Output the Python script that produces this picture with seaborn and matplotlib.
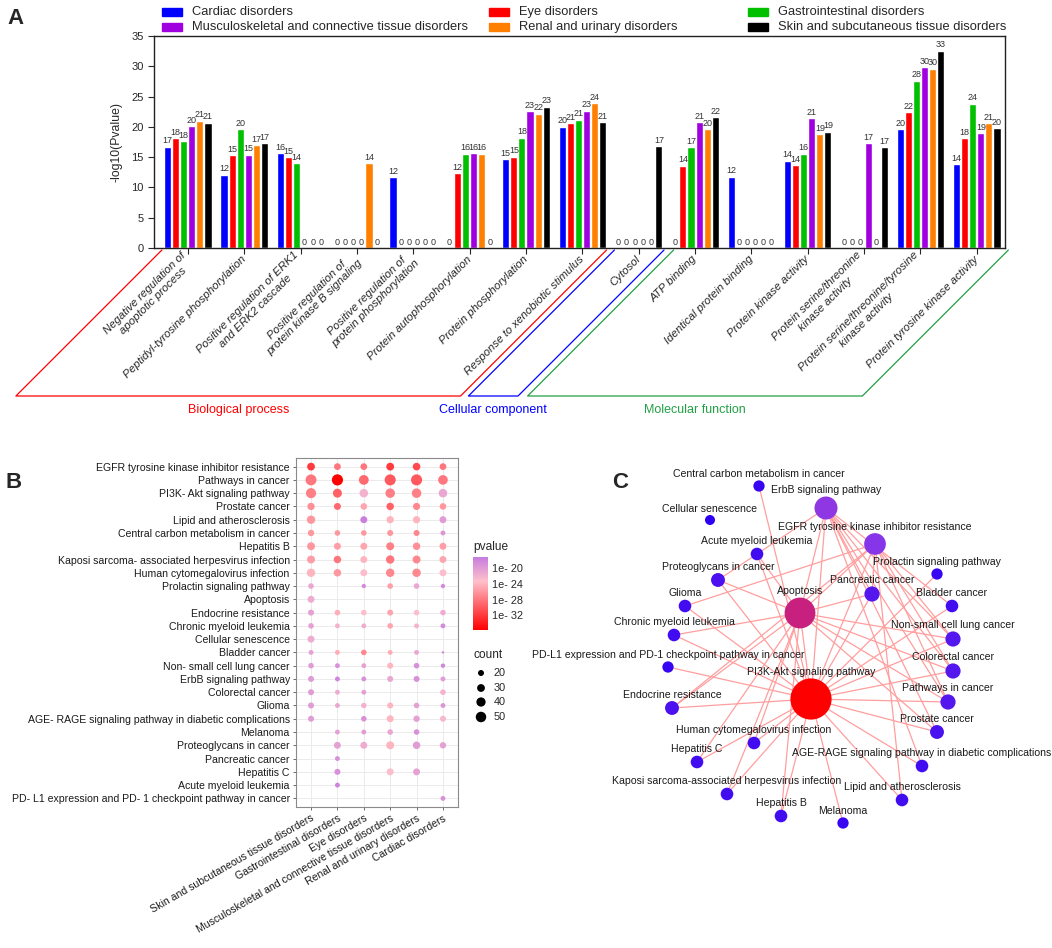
import numpy as np
import pandas as pd
import matplotlib
matplotlib.use("Agg")
import matplotlib.pyplot as plt
import seaborn as sns
from matplotlib.colors import LinearSegmentedColormap, Normalize
from matplotlib.cm import ScalarMappable
from matplotlib.patches import Rectangle

# ---------------- panel A data ----------------
go_terms = ["Negative regulation of\napoptotic process", "Peptidyl-tyrosine phosphorylation",
            "Positive regulation of ERK1\nand ERK2 cascade", "Positive regulation of\nprotein kinase B signaling",
            "Positive regulation of\nprotein phosphorylation", "Protein autophosphorylation",
            "Protein phosphorylation", "Response to xenobiotic stimulus", "Cytosol", "ATP binding",
            "Identical protein binding", "Protein kinase activity", "Protein serine/threonine\nkinase activity",
            "Protein serine/threonine/tyrosine\nkinase activity", "Protein tyrosine kinase activity"]
disorders_a = ["Cardiac disorders", "Eye disorders", "Gastrointestinal disorders",
               "Musculoskeletal and connective tissue disorders", "Renal and urinary disorders",
               "Skin and subcutaneous tissue disorders"]
bar_colors = ["#0000ff", "#ff0000", "#00c000", "#a000e0", "#ff8000", "#000000"]
cardiac_a = [16.7, 12.1, 15.7, 0, 11.7, 0, 14.7, 20.0, 0, 0, 11.8, 14.4, 0, 19.6, 13.8]
eye_a = [18.1, 15.3, 15.0, 0, 0, 12.3, 15.1, 20.6, 0, 13.6, 0, 13.7, 0, 22.4, 18.1]
gastro_a = [17.6, 19.6, 14.0, 0, 0, 15.6, 18.2, 21.2, 0, 16.6, 0, 15.6, 0, 27.6, 23.8]
musculo_a = [20.1, 15.4, 0, 0, 0, 15.7, 22.6, 22.7, 0, 20.8, 0, 21.4, 17.3, 29.8, 19.0]
renal_a = [21.0, 17.0, 0, 14.0, 0, 15.6, 22.2, 23.9, 0, 19.6, 0, 18.8, 0, 29.6, 20.6]
skin_a = [20.7, 17.3, 0, 0, 0, 0, 23.3, 20.8, 16.8, 21.6, 0, 19.2, 16.6, 32.6, 19.8]
brackets = [("Biological process", "#ff0000", -0.46, 7.43),
            ("Cellular component", "#0000ff", 7.57, 8.45),
            ("Molecular function", "#22a045", 8.62, 14.56)]

# ---------------- panel B data ----------------
pathways = ["EGFR tyrosine kinase inhibitor resistance", "Pathways in cancer", "PI3K- Akt signaling pathway",
            "Prostate cancer", "Lipid and atherosclerosis", "Central carbon metabolism in cancer", "Hepatitis B",
            "Kaposi sarcoma- associated herpesvirus infection", "Human cytomegalovirus infection",
            "Prolactin signaling pathway", "Apoptosis", "Endocrine resistance", "Chronic myeloid leukemia",
            "Cellular senescence", "Bladder cancer", "Non- small cell lung cancer", "ErbB signaling pathway",
            "Colorectal cancer", "Glioma", "AGE- RAGE signaling pathway in diabetic complications", "Melanoma",
            "Proteoglycans in cancer", "Pancreatic cancer", "Hepatitis C", "Acute myeloid leukemia",
            "PD- L1 expression and PD- 1 checkpoint pathway in cancer"]
disorders_b = ["Skin and subcutaneous tissue disorders", "Gastrointestinal disorders", "Eye disorders",
               "Musculoskeletal and connective tissue disorders", "Renal and urinary disorders", "Cardiac disorders"]
N = None
skin_count = [30, 54, 47, 27, 34, 22, 31, 31, 34, 18, 25, 20, 18, 25, 15, 18, 20, 20, 20, 20, N, N, N, N, N, N]
gastro_count = [24, 56, 38, 25, N, 18, 25, 28, 28, N, N, 18, 15, N, 15, 15, 15, 15, 15, N, 15, 25, 15, 20, 15, N]
eye_count = [24, 44, 35, 23, 25, 18, 25, 25, 25, 13, N, 18, 15, N, 18, 15, 15, 15, 18, 18, 15, 25, N, N, N, N]
musc_count = [30, 55, 42, 28, 27, 20, 31, 34, 34, 18, N, 20, 18, N, 15, 20, 20, N, 20, 25, 18, 31, N, 25, N, N]
renal_count = [29, 55, 42, 26, 27, 20, 28, 31, 34, 18, N, 18, 15, N, 15, 18, 20, N, 18, 22, 18, 28, N, 25, N, N]
cardiac_count = [24, 43, 35, 23, 25, 15, 25, 25, 25, 13, N, 18, 15, N, 7, 13, 15, 18, 15, 20, N, 22, N, N, N, 15]
# -log10(pvalue)
skin_p = [32, 28, 27.5, 26.5, 26, 26, 26, 25.5, 24, 21, 21.5, 20.5, 20.5, 21.5, 20.5, 20, 20, 20, 20, 20, N, N, N, N, N, N]
gastro_p = [28, 35.8, 29.5, 29, N, 26, 25.5, 28, 26, N, N, 24.5, 22, N, 24.5, 19, 18, 21.5, 21, N, 20.5, 20.5, 19, 19, 17.8, N]
eye_p = [28, 29, 22, 25, 17.4, 26, 25, 24, 23, 18.5, N, 23, 21.5, N, 27, 20.5, 19, 20.5, 22, 19, 20, 21.5, N, N, N, N]
musc_p = [32, 30, 27.5, 29.5, 24, 26, 27.5, 28, 27, 25.5, N, 25, 25, N, 24.5, 24, 21, N, 24, 24, 21, 24, N, 23, N, N]
renal_p = [31, 30, 27.5, 27, 24, 27, 26.5, 27, 27, 21, N, 23, 22, N, 21, 19, 19, N, 20.5, 20.5, 19, 20, N, 20.5, N, N]
cardiac_p = [28, 28, 21, 26, 20, 19.5, 25.5, 25, 23, 18.5, N, 21.5, 18.5, N, 18.5, 18, 20, 22, 19.5, 22.5, N, 20.5, N, N, N, 19]
count_ticks = [20, 30, 40, 50]
p_ticks = [20, 24, 28, 32]

# ---------------- panel C data ----------------
node_layout = {
    "Central carbon metabolism in cancer": (759, 486),
    "ErbB signaling pathway": (826, 508),
    "Cellular senescence": (710, 520),
    "EGFR tyrosine kinase inhibitor resistance": (875, 544),
    "Acute myeloid leukemia": (757, 554),
    "Prolactin signaling pathway": (937, 574),
    "Proteoglycans in cancer": (718, 580),
    "Pancreatic cancer": (872, 594),
    "Glioma": (685, 606),
    "Apoptosis": (800, 613),
    "Bladder cancer": (952, 606),
    "Chronic myeloid leukemia": (674, 635),
    "Non-small cell lung cancer": (953, 639),
    "PD-L1 expression and PD-1 checkpoint pathway in cancer": (668, 667),
    "Colorectal cancer": (953, 671),
    "PI3K-Akt signaling pathway": (811, 699),
    "Pathways in cancer": (948, 702),
    "Endocrine resistance": (672, 708),
    "Prostate cancer": (937, 732),
    "Human cytomegalovirus infection": (754, 743),
    "Hepatitis C": (697, 762),
    "AGE-RAGE signaling pathway in diabetic complications": (922, 766),
    "Kaposi sarcoma-associated herpesvirus infection": (727, 794),
    "Lipid and atherosclerosis": (902, 800),
    "Hepatitis B": (781, 816),
    "Melanoma": (843, 823),
}
pi3k_links = [n for n in node_layout if n not in ("PI3K-Akt signaling pathway", "Cellular senescence")]
apoptosis_links = ["ErbB signaling pathway", "EGFR tyrosine kinase inhibitor resistance", "Chronic myeloid leukemia",
                   "Proteoglycans in cancer", "Pancreatic cancer", "Colorectal cancer", "Non-small cell lung cancer",
                   "Pathways in cancer", "Prostate cancer", "Hepatitis B", "Hepatitis C",
                   "Kaposi sarcoma-associated herpesvirus infection", "Human cytomegalovirus infection",
                   "Acute myeloid leukemia", "Endocrine resistance"]
erbb_links = ["Proteoglycans in cancer", "Bladder cancer", "Non-small cell lung cancer", "Colorectal cancer",
              "Pathways in cancer", "Prostate cancer", "Pancreatic cancer",
              "AGE-RAGE signaling pathway in diabetic complications"]
egfr_links = ["Glioma", "Non-small cell lung cancer", "Endocrine resistance", "Colorectal cancer",
              "Pathways in cancer", "Pancreatic cancer", "Lipid and atherosclerosis"]

# ---------------- figure ----------------
sns.set_style("ticks")
plt.rcParams['font.family'] = ['Liberation Sans', 'DejaVu Sans']
W, H = 1052, 948
fig = plt.figure(figsize=(W / 100, H / 100), dpi=100)


def frac(x0, y0, x1, y1):
    return [x0 / W, 1 - y1 / H, (x1 - x0) / W, (y1 - y0) / H]


# overlay axes in pixel units (brackets, legends, network)
ov = fig.add_axes([0, 0, 1, 1])
ov.set_xlim(0, W)
ov.set_ylim(H, 0)
ov.axis("off")
ov.patch.set_alpha(0)

# ---- A: grouped bars
axA = fig.add_axes(frac(154, 36, 1005, 248))
rows = []
for d, vals in zip(disorders_a, [cardiac_a, eye_a, gastro_a, musculo_a, renal_a, skin_a]):
    for t, v in zip(go_terms, vals):
        rows.append((t, d, v))
dfA = pd.DataFrame(rows, columns=["term", "disorder", "value"])
sns.barplot(data=dfA, x="term", y="value", hue="disorder", order=go_terms, hue_order=disorders_a,
            palette=bar_colors, saturation=1, width=0.86, gap=0.12, errorbar=None, legend=False, ax=axA)
for cont in axA.containers:
    axA.bar_label(cont, labels=[f"{b.get_height():.0f}" for b in cont], padding=1, fontsize=6.5, color="#333333")
axA.set_xlim(-0.6, 14.5)
axA.set_ylim(0, 35)
axA.set_yticks(range(0, 36, 5))
axA.tick_params(axis="y", labelsize=8, length=4, width=0.8)
axA.set_xticks(range(len(go_terms)))
axA.set_xticklabels(go_terms, rotation=45, ha="right", va="center", rotation_mode="anchor",
                    fontstyle="italic", fontsize=8.2, multialignment="center")
axA.tick_params(axis="x", length=4, width=0.8, pad=3)
axA.set_xlabel("")
axA.set_ylabel("-log10(Pvalue)", fontsize=8.8, labelpad=6)
for s in axA.spines.values():
    s.set_linewidth(1)
    s.set_color("#222222")

# legend for A
legend_x = [162, 489, 748]
legend_y = [12, 27]
for i, (name, col) in enumerate(zip(disorders_a, bar_colors)):
    x, y = legend_x[i % 3], legend_y[i // 3]
    ov.add_patch(Rectangle((x, y - 4), 20, 8, color=col))
    ov.text(x + 30, y, name, va="center", ha="left", fontsize=9.3)

# brackets under A
def to_px(xd):
    return axA.transData.transform((xd, 0))[0]

top_y, bot_y = 250, 396
shift = bot_y - top_y
for name, col, x0d, x1d in brackets:
    x0, x1 = to_px(x0d), to_px(x1d)
    ov.plot([x0, x0 - shift, x1 - shift, x1], [top_y, bot_y, bot_y, top_y], color=col, lw=0.9)
    ov.text((x0 + x1) / 2 - shift, 410, name, color=col, ha="center", va="center", fontsize=9)

# ---- B: dot plot
def dot_area(c):
    return 18.7 + 1.28 * (c - 20)

cmapB = LinearSegmentedColormap.from_list("pv", [(0, "#c77cdf"), (0.33, "#ffc0cb"), (1, "#ff0000")])
normB = Normalize(17.1, 35.8)
rowsB = []
for d, cnts, ps in zip(disorders_b, [skin_count, gastro_count, eye_count, musc_count, renal_count, cardiac_count],
                       [skin_p, gastro_p, eye_p, musc_p, renal_p, cardiac_p]):
    for pw, c, p in zip(pathways, cnts, ps):
        if c is not None:
            rowsB.append((pw, d, c, p))
dfB = pd.DataFrame(rowsB, columns=["pathway", "disorder", "count", "neglogp"])
dfB["pathway"] = pd.Categorical(dfB["pathway"], categories=pathways)
dfB["disorder"] = pd.Categorical(dfB["disorder"], categories=disorders_b)

axB = fig.add_axes(frac(296, 458, 458, 807))
axB.grid(True, color="#ebebeb", lw=0.7)
axB.set_axisbelow(True)
sns.scatterplot(data=dfB, x="disorder", y="pathway", hue="neglogp", size="count", palette=cmapB,
                hue_norm=normB, sizes=(dot_area(8), dot_area(64)), size_norm=(8, 64),
                edgecolor="none", linewidth=0, legend=False, ax=axB, zorder=3)
axB.set_xlim(-0.57, 5.57)
axB.set_ylim(len(pathways) - 1 + 0.65, -0.65)
axB.set_xticks(range(len(disorders_b)))
axB.set_xticklabels(disorders_b, rotation=30, ha="right", va="top", rotation_mode="anchor", fontsize=7.6)
axB.set_yticks(range(len(pathways)))
axB.set_yticklabels(pathways, fontsize=7.6)
axB.tick_params(length=2.5, width=0.6, color="#555555", pad=2, labelcolor="#1a1a1a")
axB.set_xlabel("")
axB.set_ylabel("")
for s in axB.spines.values():
    s.set_color("#8a8a8a")
    s.set_linewidth(0.8)

cax = fig.add_axes(frac(473, 557, 488, 630))
cb = fig.colorbar(ScalarMappable(normB, cmapB), cax=cax)
cax.invert_yaxis()
cb.set_ticks(p_ticks)
cb.set_ticklabels([f"1e- {t}" for t in p_ticks])
cb.outline.set_visible(False)
cax.tick_params(length=3, color="white", direction="in", labelsize=7.8, pad=3)
ov.text(473, 547, "pvalue", ha="left", va="center", fontsize=8.6)

ov.text(473, 655, "count", ha="left", va="center", fontsize=8.6)
leg_y = [673, 688, 702, 717]
ov.scatter([481] * len(count_ticks), leg_y, s=[dot_area(c) for c in count_ticks], color="black", edgecolor="none")
for c, y in zip(count_ticks, leg_y):
    ov.text(494, y, str(c), ha="left", va="center", fontsize=7.8)

# ---- C: network
edges = [("PI3K-Akt signaling pathway", n) for n in pi3k_links]
edges += [("Apoptosis", n) for n in apoptosis_links]
edges += [("ErbB signaling pathway", n) for n in erbb_links]
edges += [("EGFR tyrosine kinase inhibitor resistance", n) for n in egfr_links]
degree = {n: 0 for n in node_layout}
for a, b in edges:
    degree[a] += 1
    degree[b] += 1
for a, b in edges:
    (xa, ya), (xb, yb) = node_layout[a], node_layout[b]
    ov.plot([xa, xb], [ya, yb], color="#ff9e9e", lw=0.9, zorder=1)
cmapC = LinearSegmentedColormap.from_list("deg", [(0, "#2e00f2"), (0.4, "#8b38e8"), (0.667, "#c8207e"), (1, "#ff0000")])
max_deg = max(degree.values())
names = list(node_layout)
diam = np.array([10 + 1.3 * degree[n] for n in names])
ov.scatter([node_layout[n][0] for n in names], [node_layout[n][1] for n in names],
           s=(diam * 0.72) ** 2, c=[cmapC(degree[n] / max_deg) for n in names], edgecolor="none", zorder=2)
for n, d in zip(names, diam):
    x, y = node_layout[n]
    ov.text(x, y - d / 2 - 6.5, n, ha="center", va="center", fontsize=7.6, color="#1a1a1a", zorder=3)

# panel letters
for letter, (x, y) in {"A": (16, 18), "B": (14, 482), "C": (620, 482)}.items():
    ov.text(x, y, letter, ha="center", va="center", fontsize=16, fontweight="bold")

fig.savefig("out.png", dpi=100)
